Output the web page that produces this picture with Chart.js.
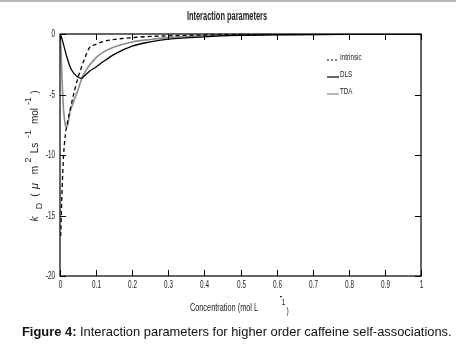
<!DOCTYPE html>
<html><head><meta charset="utf-8">
<script src="https://cdn.jsdelivr.net/npm/chart.js@4.4.1/dist/chart.umd.min.js"></script>
<style>
html,body{margin:0;padding:0;background:#fff;}
#wrap{position:relative;width:456px;height:352px;}
canvas{position:absolute;left:0;top:0;}
#topline{position:absolute;left:0;top:0;width:456px;height:2px;background:#b8b8b8;}
</style></head>
<body><div id="wrap"><div id="topline"></div><canvas id="c" width="456" height="352"></canvas></div>
<script>
// ---- data ----
const intrinsicX = [0.002,0.005,0.01,0.015,0.02,0.03,0.04,0.05,0.056,0.06,0.07,0.08,0.1,0.12,0.15,0.2,0.25,0.3,0.4,0.5,0.6,0.7,0.8,0.9,1.0];
const intrinsicY = [-16.7,-13.5,-10.0,-8.3,-7.4,-6.0,-4.7,-3.6,-3.05,-2.7,-1.9,-1.2,-0.85,-0.62,-0.45,-0.3,-0.2,-0.15,-0.08,-0.05,-0.03,-0.02,-0.01,-0.005,0];
const dlsX = [0,0.005,0.01,0.02,0.03,0.04,0.05,0.058,0.07,0.08,0.1,0.12,0.15,0.2,0.25,0.3,0.4,0.5,0.6,0.7,0.8,0.9,1.0];
const dlsY = [0,-0.35,-0.9,-2.0,-2.85,-3.3,-3.58,-3.66,-3.4,-3.12,-2.72,-2.28,-1.68,-1.0,-0.65,-0.43,-0.23,-0.12,-0.07,-0.04,-0.02,-0.01,0];
const tdaX = [0,0.003,0.006,0.01,0.014,0.018,0.022,0.028,0.035,0.04,0.05,0.06,0.07,0.08,0.1,0.12,0.15,0.2,0.25,0.3,0.4,0.5,0.6,0.7,0.8,0.9,1.0];
const tdaY = [0,-1.5,-4.0,-6.3,-7.4,-7.7,-7.4,-6.4,-5.8,-5.4,-4.6,-3.7,-3.1,-2.65,-1.95,-1.5,-1.08,-0.66,-0.45,-0.3,-0.15,-0.08,-0.05,-0.03,-0.02,-0.01,0];
const xTicks = [0,0.1,0.2,0.3,0.4,0.5,0.6,0.7,0.8,0.9,1];
const yTicks = [0,-5,-10,-15,-20];
const seriesNames = ['Intrinsic','DLS','TDA'];
const titleText = 'Interaction parameters';
const xTitleText = 'Concentration (mol L';
const captionBold = 'Figure 4:';
const captionRest = ' Interaction parameters for higher order caffeine self-associations.';

const pts = (xs, ys) => xs.map((x,i)=>({x, y: ys[i]}));
const SANS = '"Liberation Sans", Arial, sans-serif';

function narrow(ctx, text, x, y, font, sx, align){
  ctx.save();
  ctx.font = font;
  ctx.textAlign = align || 'center';
  ctx.textBaseline = 'middle';
  ctx.translate(x, y);
  ctx.scale(sx, 1);
  ctx.fillText(text, 0, 0);
  ctx.restore();
}

const decor = {
  id:'decor',
  afterDraw(chart){
    const {ctx, chartArea:a, scales:{x, y}} = chart;
    ctx.save();
    // box
    ctx.strokeStyle='#000'; ctx.lineWidth=1.2;
    ctx.strokeRect(a.left, a.top, a.right-a.left, a.bottom-a.top);
    // inward ticks on all sides + tick labels
    ctx.lineWidth=1;
    ctx.fillStyle='#1a1a1a';
    xTicks.forEach(v=>{ const px=Math.round(x.getPixelForValue(v))+0.5;
      ctx.beginPath(); ctx.moveTo(px,a.bottom); ctx.lineTo(px,a.bottom-6);
      ctx.moveTo(px,a.top); ctx.lineTo(px,a.top+6); ctx.stroke();
      narrow(ctx, String(v), px, a.bottom+9.5, '10px '+SANS, 0.64, 'center');
    });
    yTicks.forEach(v=>{ const py=Math.round(y.getPixelForValue(v))+0.5;
      ctx.beginPath(); ctx.moveTo(a.left,py); ctx.lineTo(a.left+6,py);
      ctx.moveTo(a.right,py); ctx.lineTo(a.right-6,py); ctx.stroke();
      narrow(ctx, String(v), a.left-5, py, '10px '+SANS, 0.64, 'right');
    });
    // title
    ctx.fillStyle='#222';
    narrow(ctx, titleText, 227, 17, 'bold 12px '+SANS, 0.62, 'center');
    // legend
    const ds = chart.data.datasets;
    const ly=[57,74,91];
    ds.forEach((d,i)=>{
      ctx.beginPath(); ctx.strokeStyle=d.borderColor; ctx.lineWidth=1.2;
      ctx.setLineDash(d.borderDash ? [2,2] : []);
      ctx.moveTo(327, ly[i]+3); ctx.lineTo(339, ly[i]+3); ctx.stroke();
      ctx.setLineDash([]);
      ctx.fillStyle='#222';
      narrow(ctx, d.label, 340, ly[i], '9.5px '+SANS, 0.66, 'left');
    });
    // x axis title
    narrow(ctx, xTitleText, 224, 308, '10.5px '+SANS, 0.7, 'center');
    narrow(ctx, '-', 281, 297, 'bold 9px '+SANS, 0.8, 'center');
    narrow(ctx, '1', 283.5, 302, '9.5px '+SANS, 0.7, 'center');
    narrow(ctx, ')', 287.5, 311, '9.5px '+SANS, 0.7, 'center');
    // y axis title (rotated, pieces)
    ctx.translate(35, 0);
    ctx.rotate(-Math.PI/2);
    const parts = [
      ['k',219,0,'italic 10px '],['D',206,5,'9px '],['(',195,0,'10px '],['μ',186,0,'italic 11px '],
      ['m',170,0,'10px '],['2',160,-6,'9px '],['Ls',148,0,'10px '],['-1',134,-6,'9px '],
      ['mol',116,0,'10px '],['-1',101,-6,'9px '],[')',92,0,'10px ']
    ];
    ctx.textAlign='center'; ctx.textBaseline='middle'; ctx.fillStyle='#222';
    parts.forEach(([t,yy,off,f])=>{ ctx.font=f+SANS; ctx.fillText(t, -yy, off); });
    ctx.restore();
    // caption
    ctx.save();
    ctx.fillStyle='#111'; ctx.textBaseline='middle'; ctx.textAlign='left';
    ctx.font='bold 12.9px '+SANS;
    ctx.fillText(captionBold, 22, 332);
    const w = ctx.measureText(captionBold).width;
    ctx.font='12.9px '+SANS;
    ctx.fillText(captionRest, 22+w, 332);
    ctx.restore();
  }
};

new Chart(document.getElementById('c'), {
  type:'line',
  data:{ datasets:[
    {label:seriesNames[0], data:pts(intrinsicX,intrinsicY), borderColor:'#000', borderDash:[4,3], borderWidth:1.3},
    {label:seriesNames[1], data:pts(dlsX,dlsY), borderColor:'#000', borderWidth:1.3},
    {label:seriesNames[2], data:pts(tdaX,tdaY), borderColor:'#8c8c8c', borderWidth:1.6}
  ]},
  options:{
    responsive:false, animation:false,
    layout:{padding:{left:0,right:35,top:34,bottom:0}},
    elements:{point:{radius:0}, line:{cubicInterpolationMode:'monotone', fill:false}},
    plugins:{legend:{display:false}, tooltip:{enabled:false}, title:{display:false}},
    scales:{
      x:{type:'linear', min:0, max:1,
        afterBuildTicks(s){ s.ticks = xTicks.map(v=>({value:v})); },
        afterFit(s){ s.height = 76; },
        grid:{display:false}, border:{display:false},
        ticks:{display:false}},
      y:{type:'linear', min:-20, max:0,
        afterBuildTicks(s){ s.ticks = yTicks.map(v=>({value:v})); },
        afterFit(s){ s.width = 60; },
        grid:{display:false}, border:{display:false},
        ticks:{display:false}}
    }
  },
  plugins:[decor]
});
</script></body></html>
